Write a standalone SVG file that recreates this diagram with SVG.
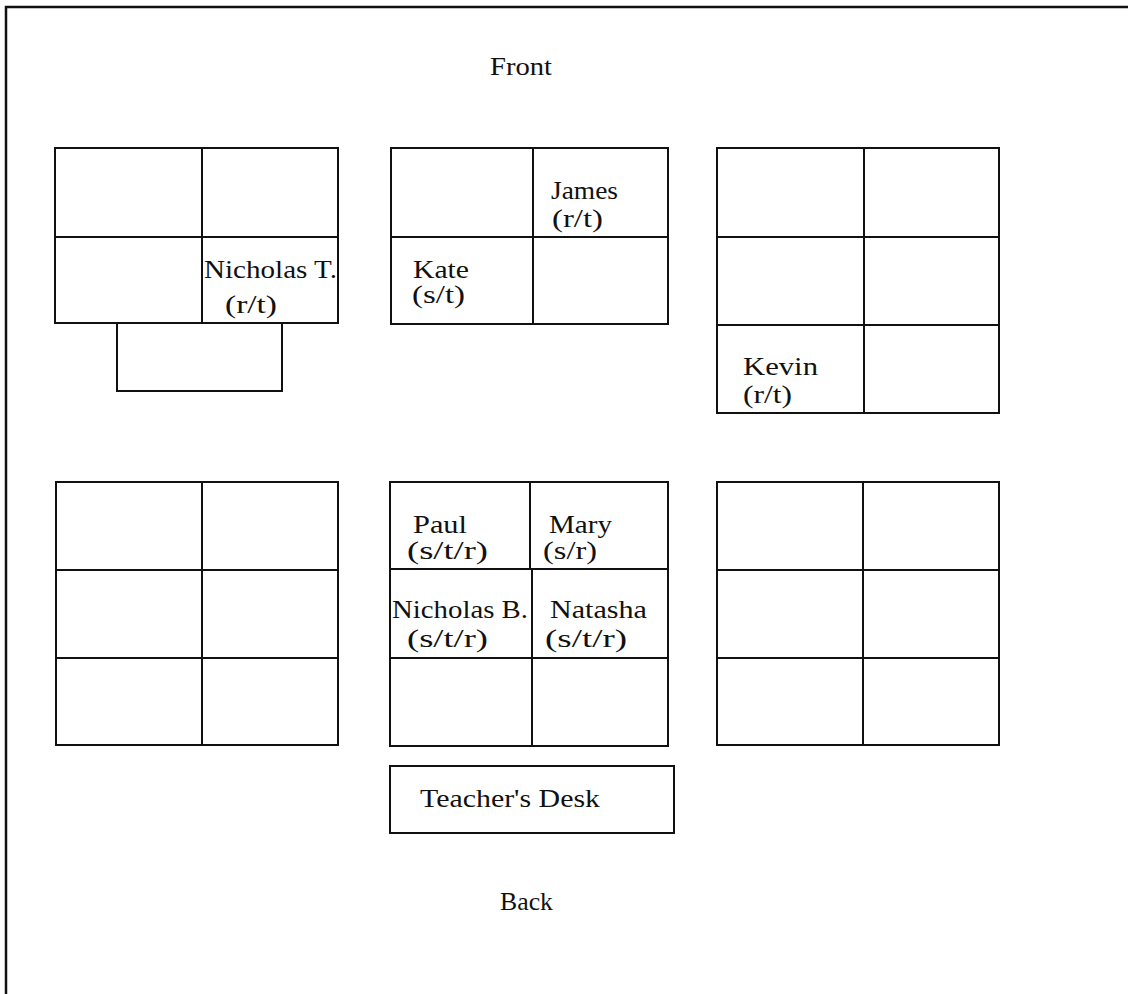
<svg xmlns="http://www.w3.org/2000/svg" width="1128" height="994" viewBox="0 0 1128 994">
<style>
.ln{fill:none;stroke:#111;stroke-width:2}
.bd{fill:none;stroke:#111;stroke-width:2.5}
text{font-family:"Liberation Serif","Times New Roman",serif;font-size:25px;fill:#111}
</style>
<rect width="1128" height="994" fill="#fff"/>
<path class="bd" d="M6,994 V7 H1128"/>
<g id="front"><text x="490" y="75" textLength="62" lengthAdjust="spacingAndGlyphs">Front</text></g>
<g id="back"><text x="500" y="910" textLength="53" lengthAdjust="spacingAndGlyphs">Back</text></g>
<g id="table-top-left">
<rect class="ln" x="55" y="148" width="283" height="175"/>
<path class="ln" d="M55,237 H338 M202,148 V323"/>
<path class="ln" d="M117,323 V391 H282 V323"/>
<text x="204" y="278" textLength="133" lengthAdjust="spacingAndGlyphs">Nicholas T.</text>
<text x="225" y="313" textLength="52" lengthAdjust="spacingAndGlyphs">(r/t)</text>
</g>
<g id="table-top-middle">
<rect class="ln" x="391" y="148" width="277" height="176"/>
<path class="ln" d="M391,237 H668 M533,148 V324"/>
<text x="551" y="199" textLength="67" lengthAdjust="spacingAndGlyphs">James</text>
<text x="552" y="227" textLength="51" lengthAdjust="spacingAndGlyphs">(r/t)</text>
<text x="413" y="278" textLength="56" lengthAdjust="spacingAndGlyphs">Kate</text>
<text x="412" y="303" textLength="53" lengthAdjust="spacingAndGlyphs">(s/t)</text>
</g>
<g id="table-top-right">
<rect class="ln" x="717" y="148" width="282" height="265"/>
<path class="ln" d="M717,237 H999 M717,325 H999 M864,148 V413"/>
<text x="743" y="375" textLength="75" lengthAdjust="spacingAndGlyphs">Kevin</text>
<text x="743" y="403" textLength="49" lengthAdjust="spacingAndGlyphs">(r/t)</text>
</g>
<g id="table-bottom-left">
<rect class="ln" x="56" y="482" width="282" height="263"/>
<path class="ln" d="M56,570 H338 M56,658 H338 M202,482 V745"/>
</g>
<g id="table-bottom-middle">
<rect class="ln" x="390" y="482" width="278" height="264"/>
<path class="ln" d="M390,569 H668 M390,658 H668 M530,482 V569 M532,569 V746"/>
<text x="413" y="533" textLength="54" lengthAdjust="spacingAndGlyphs">Paul</text>
<text x="407" y="559" textLength="81" lengthAdjust="spacingAndGlyphs">(s/t/r)</text>
<text x="549" y="533" textLength="63" lengthAdjust="spacingAndGlyphs">Mary</text>
<text x="543" y="559" textLength="54" lengthAdjust="spacingAndGlyphs">(s/r)</text>
<text x="392" y="618" textLength="136" lengthAdjust="spacingAndGlyphs">Nicholas B.</text>
<text x="407" y="647" textLength="81" lengthAdjust="spacingAndGlyphs">(s/t/r)</text>
<text x="550" y="618" textLength="97" lengthAdjust="spacingAndGlyphs">Natasha</text>
<text x="545" y="647" textLength="82" lengthAdjust="spacingAndGlyphs">(s/t/r)</text>
</g>
<g id="table-bottom-right">
<rect class="ln" x="717" y="482" width="282" height="263"/>
<path class="ln" d="M717,570 H999 M717,658 H999 M863,482 V745"/>
</g>
<g id="teachers-desk">
<rect class="ln" x="390" y="766" width="284" height="67"/>
<text x="420" y="807" textLength="180" lengthAdjust="spacingAndGlyphs">Teacher's Desk</text>
</g>
<g id="connectors"/>
</svg>
